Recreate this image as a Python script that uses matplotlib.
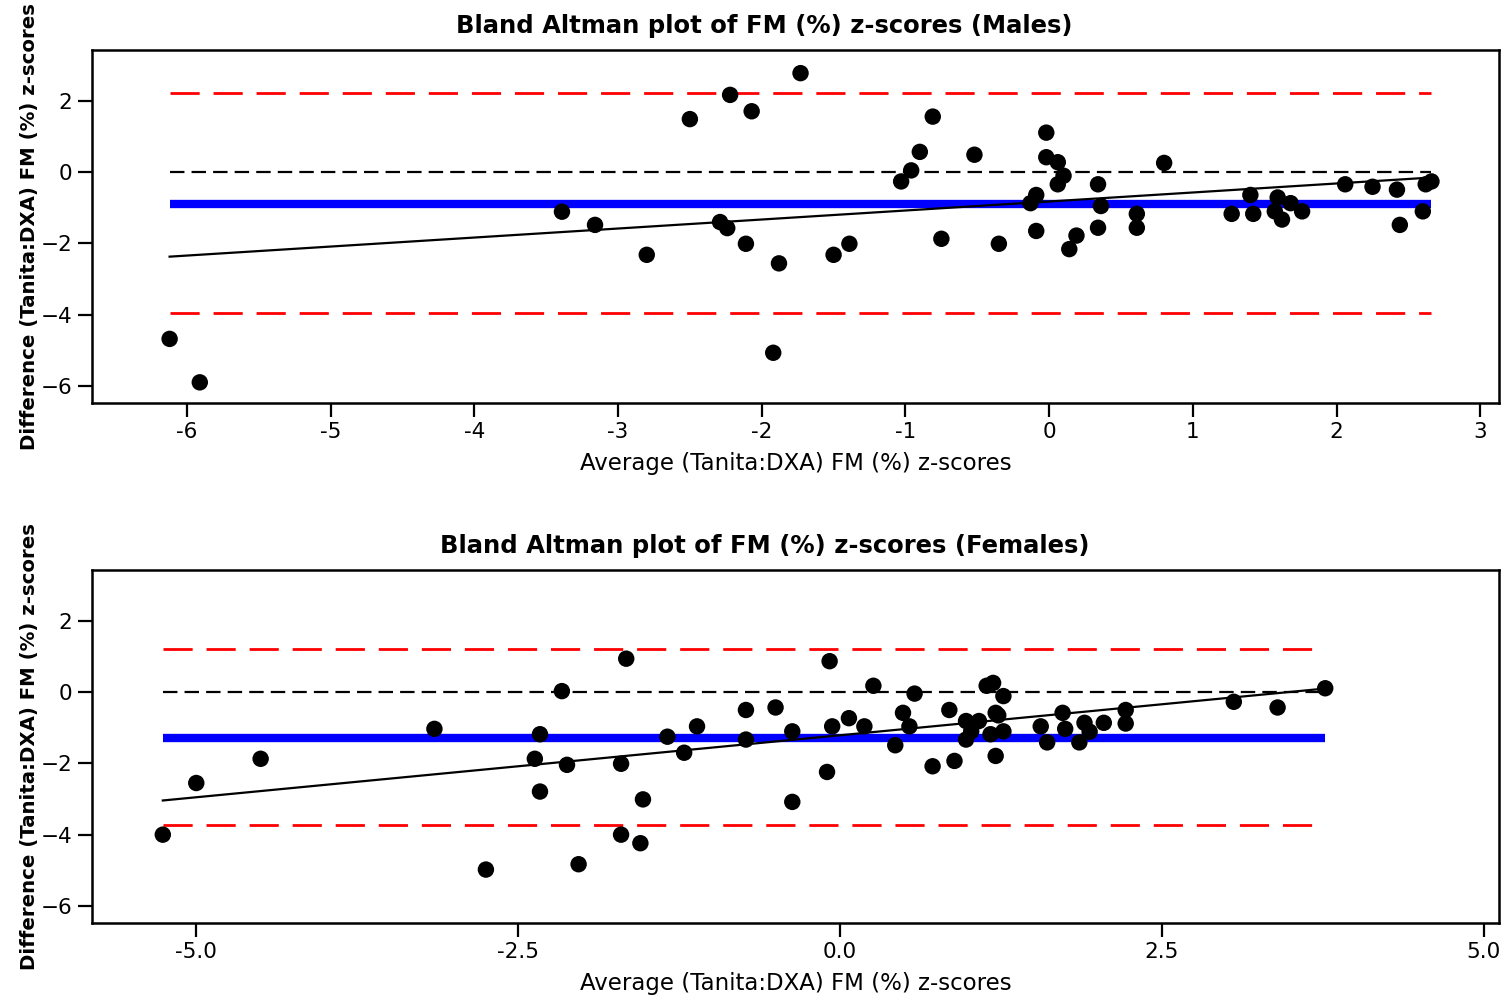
import numpy as np
import matplotlib
matplotlib.use("Agg")
import matplotlib.pyplot as plt

# Males: average (x) and difference (y) of z-scores
male_avg = [-6.12, -5.91, -3.39, -3.16, -2.80, -2.50, -2.22, -2.07, -1.73, -2.29,
            -2.24, -2.11, -1.88, -1.92, -1.50, -1.39, -1.03, -0.96, -0.90, -0.81,
            -0.75, -0.52, -0.35, -0.13, -0.09, -0.09, -0.02, -0.02, 0.06, 0.10,
            0.06, 0.19, 0.14, 0.34, 0.36, 0.34, 0.61, 0.61, 0.80, 1.27,
            1.40, 1.42, 1.59, 1.57, 1.62, 1.68, 1.76, 2.06, 2.25, 2.42,
            2.44, 2.60, 2.62, 2.66]
male_diff = [-4.68, -5.90, -1.11, -1.48, -2.32, 1.49, 2.17, 1.71, 2.78, -1.40,
             -1.57, -2.01, -2.56, -5.07, -2.32, -2.01, -0.26, 0.05, 0.57, 1.56,
             -1.87, 0.49, -2.01, -0.87, -0.64, -1.65, 1.11, 0.42, 0.28, -0.10,
             -0.34, -1.78, -2.16, -0.34, -0.95, -1.56, -1.17, -1.56, 0.26, -1.17,
             -0.64, -1.17, -0.71, -1.10, -1.33, -0.87, -1.10, -0.34, -0.41, -0.49,
             -1.48, -1.10, -0.34, -0.26]
male_bias = -0.90
male_loa = [2.21, -3.96]
male_fit = [0.253, -0.823]   # slope, intercept

# Females
female_avg = [-5.26, -5.00, -4.50, -3.15, -2.75, -2.37, -2.33, -2.33, -2.16, -2.12,
              -2.03, -1.70, -1.66, -1.70, -1.55, -1.53, -1.34, -1.21, -1.11, -0.73,
              -0.73, -0.50, -0.37, -0.37, -0.10, -0.08, -0.06, 0.07, 0.26, 0.19,
              0.43, 0.49, 0.54, 0.58, 0.72, 0.85, 0.89, 0.98, 0.98, 1.02,
              1.08, 1.14, 1.19, 1.21, 1.23, 1.17, 1.27, 1.27, 1.21, 1.56,
              1.61, 1.73, 1.75, 1.86, 1.90, 1.94, 2.05, 2.22, 2.22, 3.06,
              3.40, 3.77]
female_diff = [-4.00, -2.55, -1.87, -1.03, -4.98, -1.87, -1.18, -2.79, 0.03, -2.04,
               -4.83, -2.01, 0.94, -4.00, -4.24, -3.01, -1.25, -1.70, -0.96, -0.50,
               -1.33, -0.43, -1.10, -3.08, -2.24, 0.87, -0.96, -0.73, 0.18, -0.96,
               -1.49, -0.58, -0.96, -0.04, -2.08, -0.50, -1.93, -0.81, -1.33, -1.10,
               -0.81, 0.18, 0.26, -0.58, -0.65, -1.18, -0.11, -1.10, -1.79, -0.96,
               -1.41, -0.58, -1.03, -1.41, -0.86, -1.11, -0.86, -0.50, -0.88, -0.27,
               -0.43, 0.11]
female_bias = -1.28
female_loa = [1.21, -3.74]
female_fit = [0.348, -1.21]

x_ticks_m = [-6, -5, -4, -3, -2, -1, 0, 1, 2, 3]
x_ticks_f = [-5.0, -2.5, 0.0, 2.5, 5.0]
y_ticks = [-6, -4, -2, 0, 2]

plt.rcParams['font.family'] = 'DejaVu Sans'

fig = plt.figure(figsize=(15.01, 10.02), dpi=100)
ax_m = fig.add_axes([92 / 1501, 1 - 403 / 1002, 1407 / 1501, 353 / 1002])
ax_f = fig.add_axes([92 / 1501, 1 - 923 / 1002, 1407 / 1501, 353 / 1002])


def bland_altman(ax, avg, diff, bias, loa, fit, title, xticks, xlim, fmt):
    avg = np.array(avg)
    diff = np.array(diff)
    x0, x1 = avg.min(), avg.max()
    for lim in loa:
        ax.plot([x0, x1], [lim, lim], color='red', lw=2, dashes=(10.5, 5), zorder=2)
    ax.plot([x0, x1], [0, 0], color='black', lw=1.6, dashes=(6.5, 3.2), zorder=2)
    ax.plot([x0, x1], [bias, bias], color='blue', lw=6, solid_capstyle='butt', zorder=2)
    xs = np.array([x0, x1])
    ax.plot(xs, fit[0] * xs + fit[1], color='black', lw=1.6, zorder=3)
    ax.scatter(avg, diff, s=140, color='black', edgecolors='none', zorder=4)

    ax.set_xlim(*xlim)
    ax.set_ylim(-6.48, 3.43)
    ax.set_xticks(xticks)
    ax.set_xticklabels([fmt.format(t) for t in xticks])
    ax.set_yticks(y_ticks)
    ax.tick_params(length=10, width=1.6, labelsize=15.5, pad=4, direction='out')
    for sp in ax.spines.values():
        sp.set_linewidth(1.8)
    # title sits a little left of the axes centre in the original
    ax.set_title(title, fontsize=17.5, fontweight='bold', pad=12, x=0.478)
    ax.set_xlabel('Average (Tanita:DXA) FM (%) z-scores', fontsize=16.5, labelpad=7)
    ax.set_ylabel('Difference (Tanita:DXA) FM (%) z-scores', fontsize=14.2,
                  fontweight='bold')
    ax.yaxis.set_label_coords(-0.038, 0.5)


bland_altman(ax_m, male_avg, male_diff, male_bias, male_loa, male_fit,
             'Bland Altman plot of FM (%) z-scores (Males)',
             x_ticks_m, (-6.66, 3.13), '{:g}')
bland_altman(ax_f, female_avg, female_diff, female_bias, female_loa, female_fit,
             'Bland Altman plot of FM (%) z-scores (Females)',
             x_ticks_f, (-5.81, 5.12), '{:.1f}')

fig.savefig('out.png', dpi=100)
